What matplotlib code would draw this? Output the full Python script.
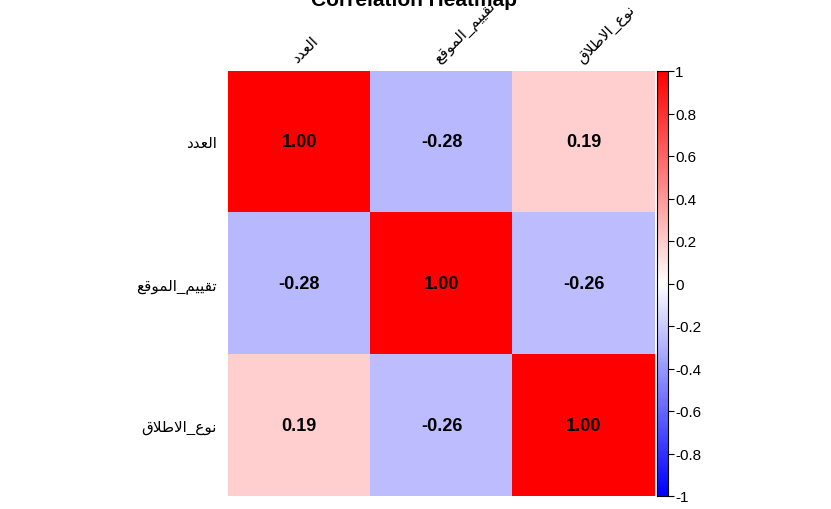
import numpy as np
import matplotlib
matplotlib.use("Agg")
import matplotlib.pyplot as plt
from matplotlib.colors import LinearSegmentedColormap

plt.rcParams["font.family"] = ["Liberation Sans", "DejaVu Sans"]

labels = ["العدد", "تقييم_الموقع", "نوع_الاطلاق"]
corr = np.array([
    [1.00, -0.28, 0.19],
    [-0.28, 1.00, -0.26],
    [0.19, -0.26, 1.00],
])
cbar_ticks = [-1, -0.8, -0.6, -0.4, -0.2, 0, 0.2, 0.4, 0.6, 0.8, 1]

# minimal Arabic shaping: isolated, final, initial, medial
FORMS = {
    "ا": (0xFE8D, 0xFE8E, None, None),
    "د": (0xFEA9, 0xFEAA, None, None),
    "و": (0xFEED, 0xFEEE, None, None),
    "ل": (0xFEDD, 0xFEDE, 0xFEDF, 0xFEE0),
    "ع": (0xFEC9, 0xFECA, 0xFECB, 0xFECC),
    "ت": (0xFE95, 0xFE96, 0xFE97, 0xFE98),
    "ق": (0xFED5, 0xFED6, 0xFED7, 0xFED8),
    "ي": (0xFEF1, 0xFEF2, 0xFEF3, 0xFEF4),
    "م": (0xFEE1, 0xFEE2, 0xFEE3, 0xFEE4),
    "ن": (0xFEE5, 0xFEE6, 0xFEE7, 0xFEE8),
    "ط": (0xFEC1, 0xFEC2, 0xFEC3, 0xFEC4),
}


def dual(c):
    return c in FORMS and FORMS[c][2] is not None


def shape(s):
    out = []
    i = 0
    while i < len(s):
        c = s[i]
        prev = s[i - 1] if i > 0 else ""
        jp = dual(prev)
        if c == "ل" and i + 1 < len(s) and s[i + 1] == "ا":
            out.append(chr(0xFEFC if jp else 0xFEFB))
            i += 2
            continue
        if c not in FORMS:
            out.append(c)
            i += 1
            continue
        nxt = s[i + 1] if i + 1 < len(s) else ""
        jn = dual(c) and nxt in FORMS
        iso, fin, ini, med = FORMS[c]
        if jp and jn:
            g = med
        elif jp:
            g = fin
        elif jn:
            g = ini
        else:
            g = iso
        out.append(chr(g))
        i += 1
    return "".join(out)[::-1]


shaped = [shape(l) for l in labels]

cmap = LinearSegmentedColormap.from_list("bwr2", ["#0000FF", "#FFFFFF", "#FF0000"])

fig = plt.figure(figsize=(8.31, 5.10), dpi=100)
ax = fig.add_axes([228 / 831, 13 / 510, 427 / 831, 425 / 510])
ax.imshow(corr, cmap=cmap, vmin=-1, vmax=1, aspect="auto")
n = len(labels)
for i in range(n):
    for j in range(n):
        ax.text(j, i, f"{corr[i, j]:.2f}", ha="center", va="center",
                fontsize=13, fontweight="bold", color="black")
ax.set_xticks(range(n))
ax.set_yticks(range(n))
ax.xaxis.tick_top()
ax.set_xticklabels(shaped, rotation=45, ha="left", rotation_mode="anchor", fontsize=11)
ax.set_yticklabels(shaped, fontsize=11)
ax.tick_params(axis="x", length=0, pad=4)
ax.tick_params(axis="y", length=0, pad=8)
for sp in ax.spines.values():
    sp.set_visible(False)

cax = fig.add_axes([657 / 831, 13 / 510, 11 / 831, 425 / 510])
grad = np.linspace(1, -1, 200).reshape(-1, 1)
cax.imshow(grad, cmap=cmap, vmin=-1, vmax=1, aspect="auto", extent=[0, 1, -1, 1])
cax.set_xticks([])
cax.yaxis.tick_right()
cax.set_yticks(cbar_ticks)
cax.set_yticklabels([f"{t:g}" for t in cbar_ticks], fontsize=11)
cax.tick_params(axis="y", length=4, pad=1)
for sp in cax.spines.values():
    sp.set_linewidth(0.8)

fig.text(414 / 831, 1.0, "Correlation Heatmap", ha="center", va="center",
         fontsize=15, fontweight="bold")

fig.savefig("out.png", dpi=100, facecolor="white")
